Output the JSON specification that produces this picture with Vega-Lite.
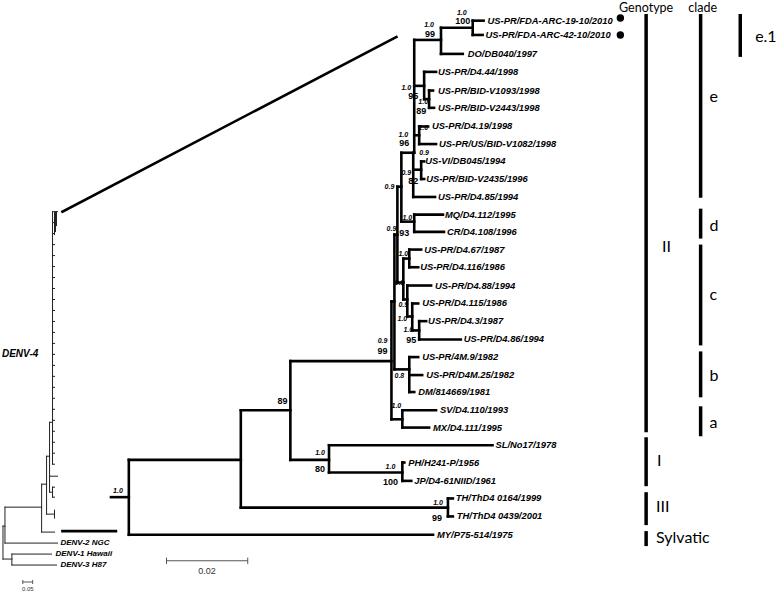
{
"$schema":"https://vega.github.io/schema/vega-lite/v6.json",
"width":777,"height":592,"padding":0,
"autosize":{"type":"fit","contains":"padding"},
"background":"white",
"config":{"view":{"stroke":null}},
"datasets":{
"branches":[
{"x":477,"y":20.7,"x2":488,"y2":20.7},{"x":477,"y":35,"x2":487,"y2":35},{"x":477,"y":20.7,"x2":477,"y2":35},
{"x":445,"y":27.8,"x2":477,"y2":27.8},{"x":445,"y":27.8,"x2":445,"y2":54},{"x":445,"y":54,"x2":467,"y2":54},
{"x":418,"y":40,"x2":445,"y2":40},{"x":418,"y":40,"x2":418,"y2":153},
{"x":418,"y":86,"x2":428,"y2":86},{"x":428,"y":72,"x2":428,"y2":99.3},{"x":428,"y":72,"x2":440,"y2":72},
{"x":428,"y":99.3,"x2":433,"y2":99.3},{"x":433,"y":90.7,"x2":433,"y2":108},{"x":433,"y":90.7,"x2":437,"y2":90.7},{"x":433,"y":108,"x2":438,"y2":108},
{"x":418,"y":135.5,"x2":423,"y2":135.5},{"x":423,"y":126.7,"x2":423,"y2":144.3},{"x":423,"y":126.7,"x2":432,"y2":126.7},{"x":423,"y":144.3,"x2":440,"y2":144.3},
{"x":417,"y":153,"x2":417,"y2":197.3},{"x":417,"y":170,"x2":425,"y2":170},{"x":425,"y":161.7,"x2":425,"y2":179.3},
{"x":425,"y":161.7,"x2":428,"y2":161.7},{"x":425,"y":179.3,"x2":428,"y2":179.3},{"x":417,"y":197.3,"x2":439,"y2":197.3},
{"x":405,"y":153,"x2":418,"y2":153},{"x":405,"y":153,"x2":405,"y2":222},{"x":405,"y":222,"x2":418,"y2":222},
{"x":418,"y":215,"x2":418,"y2":232.3},{"x":418,"y":215,"x2":447,"y2":215},{"x":418,"y":232.3,"x2":448,"y2":232.3},
{"x":401,"y":187,"x2":405,"y2":187},{"x":401,"y":187,"x2":401,"y2":283},{"x":401,"y":283,"x2":407,"y2":283},
{"x":407,"y":259,"x2":407,"y2":300},{"x":407,"y":259,"x2":413,"y2":259},{"x":413,"y":250,"x2":413,"y2":267.7},
{"x":413,"y":250,"x2":425,"y2":250},{"x":413,"y":267.7,"x2":422,"y2":267.7},
{"x":407,"y":300,"x2":411,"y2":300},{"x":411,"y":286,"x2":411,"y2":317},{"x":411,"y":286,"x2":435,"y2":286},
{"x":411,"y":317,"x2":416,"y2":317},{"x":416,"y":304,"x2":416,"y2":331},{"x":416,"y":304,"x2":422,"y2":304},
{"x":416,"y":331,"x2":423,"y2":331},{"x":423,"y":321.7,"x2":423,"y2":340},{"x":423,"y":321.7,"x2":430,"y2":321.7},{"x":423,"y":340,"x2":465,"y2":340},
{"x":398,"y":235,"x2":401,"y2":235},{"x":398,"y":235,"x2":398,"y2":370},{"x":398,"y":370,"x2":413,"y2":370},
{"x":413,"y":357.7,"x2":413,"y2":392.7},{"x":413,"y":357.7,"x2":422,"y2":357.7},{"x":413,"y":375.7,"x2":426,"y2":375.7},{"x":413,"y":392.7,"x2":418,"y2":392.7},
{"x":395,"y":302,"x2":398,"y2":302},{"x":395,"y":302,"x2":395,"y2":420},{"x":395,"y":420,"x2":406,"y2":420},
{"x":406,"y":411,"x2":406,"y2":428.3},{"x":406,"y":411,"x2":440,"y2":411},{"x":406,"y":428.3,"x2":433,"y2":428.3},
{"x":293,"y":361.7,"x2":395,"y2":361.7},{"x":293,"y":361.7,"x2":293,"y2":460.7},{"x":293,"y":460.7,"x2":332,"y2":460.7},
{"x":332,"y":446,"x2":332,"y2":473.3},{"x":332,"y":446,"x2":497,"y2":446},{"x":332,"y":473.3,"x2":406,"y2":473.3},
{"x":406,"y":463.3,"x2":406,"y2":481.7},{"x":406,"y":463.3,"x2":408,"y2":463.3},{"x":406,"y":481.7,"x2":415,"y2":481.7},
{"x":243,"y":411,"x2":293,"y2":411},{"x":243,"y":411,"x2":243,"y2":508.5},{"x":243,"y":508.5,"x2":452,"y2":508.5},
{"x":452,"y":499.3,"x2":452,"y2":517.3},{"x":452,"y":499.3,"x2":457,"y2":499.3},{"x":452,"y":517.3,"x2":457,"y2":517.3},
{"x":130,"y":460.7,"x2":243,"y2":460.7},{"x":130,"y":460.7,"x2":130,"y2":535.7},{"x":130,"y":535.7,"x2":437,"y2":535.7},
{"x":112,"y":498,"x2":130,"y2":498},
{"x":63,"y":212,"x2":400,"y2":37},{"x":63,"y":532,"x2":117,"y2":532}
],
"overview":[
{"x":3,"y":527,"x2":3,"y2":560},{"x":3,"y":527,"x2":5,"y2":527},{"x":5,"y":508,"x2":5,"y2":544},{"x":5,"y":544,"x2":58,"y2":544},
{"x":5,"y":508,"x2":42,"y2":508},{"x":42,"y":485,"x2":42,"y2":533},{"x":42,"y":533,"x2":55,"y2":533},{"x":42,"y":485,"x2":47,"y2":485},
{"x":47,"y":457,"x2":47,"y2":515},{"x":47,"y":515,"x2":55,"y2":515},{"x":55,"y":511,"x2":55,"y2":519},{"x":47,"y":457,"x2":50,"y2":457},
{"x":50,"y":423,"x2":50,"y2":493},{"x":50,"y":477,"x2":58,"y2":477},{"x":50,"y":493,"x2":53,"y2":493},{"x":53,"y":488,"x2":53,"y2":498},
{"x":53,"y":488,"x2":55,"y2":488},{"x":53,"y":498,"x2":55,"y2":498},{"x":50,"y":423,"x2":53,"y2":423},{"x":53,"y":212,"x2":53,"y2":465},
{"x":3,"y":560,"x2":12,"y2":560},{"x":12,"y":555,"x2":12,"y2":566},{"x":12,"y":555,"x2":52,"y2":555},{"x":12,"y":566,"x2":57,"y2":566},
{"x":55,"y":213,"x2":55,"y2":235},{"x":56,"y":212,"x2":56,"y2":232},{"x":57,"y":212,"x2":57,"y2":226},
{"x":53,"y":212,"x2":58,"y2":212},{"x":53,"y":223,"x2":55,"y2":223},{"x":53,"y":234,"x2":55,"y2":234},{"x":53,"y":245,"x2":55,"y2":245},
{"x":53,"y":256,"x2":55,"y2":256},{"x":53,"y":267,"x2":55,"y2":267},{"x":53,"y":278,"x2":55,"y2":278},{"x":53,"y":289,"x2":55,"y2":289},
{"x":53,"y":300,"x2":55,"y2":300},{"x":53,"y":311,"x2":55,"y2":311},{"x":53,"y":322,"x2":55,"y2":322},{"x":53,"y":333,"x2":55,"y2":333},
{"x":53,"y":344,"x2":55,"y2":344},{"x":53,"y":355,"x2":55,"y2":355},{"x":53,"y":366,"x2":55,"y2":366},{"x":53,"y":377,"x2":55,"y2":377},
{"x":53,"y":388,"x2":55,"y2":388},{"x":53,"y":399,"x2":55,"y2":399},{"x":53,"y":410,"x2":55,"y2":410},{"x":53,"y":421,"x2":55,"y2":421},
{"x":53,"y":432,"x2":55,"y2":432},{"x":53,"y":443,"x2":55,"y2":443},{"x":53,"y":454,"x2":55,"y2":454},{"x":53,"y":465,"x2":55,"y2":465}
],
"scalebars":[
{"x":168,"y":561.7,"x2":250,"y2":561.7},{"x":168,"y":558.5,"x2":168,"y2":565},{"x":250,"y":558.5,"x2":250,"y2":565},
{"x":23,"y":583,"x2":33,"y2":583},{"x":23,"y":581,"x2":23,"y2":585},{"x":33,"y":581,"x2":33,"y2":585}
],
"bars":[
{"x":652,"y":14,"x2":652,"y2":433},{"x":652,"y":438,"x2":652,"y2":487},{"x":652,"y":493,"x2":652,"y2":526},{"x":652,"y":532,"x2":652,"y2":547},
{"x":707,"y":14,"x2":707,"y2":198},{"x":707,"y":209,"x2":707,"y2":239},{"x":707,"y":245,"x2":707,"y2":346},{"x":707,"y":352,"x2":707,"y2":398},
{"x":707,"y":407,"x2":707,"y2":437},{"x":747,"y":14,"x2":747,"y2":57}
],
"dots":[{"x":626,"y":18},{"x":626,"y":35}],
"leaves":[
{"x":492,"y":20.7,"t":"US-PR/FDA-ARC-19-10/2010"},{"x":490,"y":35,"t":"US-PR/FDA-ARC-42-10/2010"},{"x":472,"y":54,"t":"DO/DB040/1997"},
{"x":442,"y":72,"t":"US-PR/D4.44/1998"},{"x":442,"y":90.7,"t":"US-PR/BID-V1093/1998"},{"x":442,"y":108,"t":"US-PR/BID-V2443/1998"},
{"x":436,"y":126.7,"t":"US-PR/D4.19/1998"},{"x":443,"y":144.3,"t":"US-PR/US/BID-V1082/1998"},{"x":429,"y":161.7,"t":"US-VI/DB045/1994"},
{"x":430,"y":179.3,"t":"US-PR/BID-V2435/1996"},{"x":442,"y":197.3,"t":"US-PR/D4.85/1994"},{"x":449,"y":215,"t":"MQ/D4.112/1995"},
{"x":451,"y":232.3,"t":"CR/D4.108/1996"},{"x":428,"y":250,"t":"US-PR/D4.67/1987"},{"x":424,"y":267.7,"t":"US-PR/D4.116/1986"},
{"x":439,"y":286,"t":"US-PR/D4.88/1994"},{"x":426,"y":304,"t":"US-PR/D4.115/1986"},{"x":432,"y":321.7,"t":"US-PR/D4.3/1987"},
{"x":468,"y":340,"t":"US-PR/D4.86/1994"},{"x":426,"y":357.7,"t":"US-PR/4M.9/1982"},{"x":430,"y":375.7,"t":"US-PR/D4M.25/1982"},
{"x":422,"y":392.7,"t":"DM/814669/1981"},{"x":444,"y":411,"t":"SV/D4.110/1993"},{"x":437,"y":428.3,"t":"MX/D4.111/1995"},
{"x":500,"y":446,"t":"SL/No17/1978"},{"x":412,"y":463.3,"t":"PH/H241-P/1956"},{"x":418,"y":481.7,"t":"JP/D4-61NIID/1961"},
{"x":460,"y":499.3,"t":"TH/ThD4 0164/1999"},{"x":461,"y":517.3,"t":"TH/ThD4 0439/2001"},{"x":441,"y":535.7,"t":"MY/P75-514/1975"}
],
"ovleaves":[
{"x":61,"y":544,"t":"DENV-2 NGC"},{"x":56,"y":555,"t":"DENV-1 Hawaii"},{"x":61,"y":566,"t":"DENV-3 H87"}
],
"denv4":[{"x":2,"y":355,"t":"DENV-4"}],
"posterior":[
{"x":466,"y":13,"t":"1.0"},{"x":433,"y":25,"t":"1.0"},{"x":410,"y":88,"t":"1.0"},{"x":427,"y":102,"t":"1.0"},
{"x":407,"y":135,"t":"1.0"},{"x":427,"y":128,"t":"1.0"},{"x":428,"y":153,"t":"0.9"},{"x":410,"y":173,"t":"0.9"},
{"x":393,"y":187,"t":"0.9"},{"x":411,"y":218,"t":"1.0"},{"x":395,"y":229,"t":"0.9"},{"x":407,"y":254,"t":"1.0"},
{"x":403,"y":283,"t":"0.9"},{"x":407,"y":306,"t":"0.9"},{"x":406,"y":320,"t":"1.0"},{"x":412,"y":331,"t":"1.0"},
{"x":386,"y":342,"t":"0.9"},{"x":403,"y":377,"t":"0.8"},{"x":400,"y":407,"t":"1.0"},{"x":323,"y":454,"t":"1.0"},
{"x":394,"y":468,"t":"1.0"},{"x":442,"y":504,"t":"1.0"},{"x":119,"y":492,"t":"1.0"}
],
"bootstrap":[
{"x":467,"y":21,"t":"100"},{"x":434,"y":34,"t":"99"},{"x":417,"y":96,"t":"95"},{"x":425,"y":111,"t":"89"},
{"x":408,"y":143,"t":"96"},{"x":417,"y":181,"t":"82"},{"x":408,"y":233,"t":"93"},{"x":415,"y":341,"t":"95"},
{"x":386,"y":352,"t":"99"},{"x":285,"y":402,"t":"89"},{"x":323,"y":470,"t":"80"},{"x":394,"y":483,"t":"100"},{"x":441,"y":519,"t":"99"}
],
"scalelabels":[{"x":209,"y":572,"t":"0.02"}],
"scalelabels2":[{"x":28,"y":590,"t":"0.05"}],
"biglabels":[
{"x":668,"y":247,"t":"II"},{"x":663,"y":462,"t":"I"},{"x":662,"y":508,"t":"III"},{"x":662,"y":539,"t":"Sylvatic"},
{"x":716,"y":97,"t":"e"},{"x":716,"y":226,"t":"d"},{"x":716,"y":295,"t":"c"},{"x":716,"y":377,"t":"b"},{"x":716,"y":424,"t":"a"},{"x":762,"y":37,"t":"e.1"}
],
"headers":[{"x":652,"y":8,"t":"Genotype"},{"x":709,"y":8,"t":"clade"}]
},
"encoding":{
"x":{"field":"x","type":"quantitative","scale":{"domain":[0,777],"nice":false,"zero":false},"axis":null},
"y":{"field":"y","type":"quantitative","scale":{"domain":[0,592],"reverse":true,"nice":false,"zero":false},"axis":null}
},
"layer":[
{"data":{"name":"branches"},"mark":{"type":"rule","strokeWidth":2.6,"strokeCap":"square","color":"black"},
 "encoding":{"x2":{"field":"x2"},"y2":{"field":"y2"}}},
{"data":{"name":"overview"},"mark":{"type":"rule","strokeWidth":1,"strokeCap":"square","color":"#222"},
 "encoding":{"x2":{"field":"x2"},"y2":{"field":"y2"}}},
{"data":{"name":"scalebars"},"mark":{"type":"rule","strokeWidth":1,"color":"#555"},
 "encoding":{"x2":{"field":"x2"},"y2":{"field":"y2"}}},
{"data":{"name":"bars"},"mark":{"type":"rule","strokeWidth":3.5,"color":"black"},
 "encoding":{"x2":{"field":"x2"},"y2":{"field":"y2"}}},
{"data":{"name":"dots"},"mark":{"type":"point","filled":true,"size":55,"color":"black","opacity":1,"shape":"circle"}},
{"data":{"name":"leaves"},"mark":{"type":"text","align":"left","baseline":"middle","font":"Liberation Sans","fontSize":9.4,"fontWeight":"bold","fontStyle":"italic","color":"black"},
 "encoding":{"text":{"field":"t"}}},
{"data":{"name":"ovleaves"},"mark":{"type":"text","align":"left","baseline":"middle","font":"Liberation Sans","fontSize":8,"fontWeight":"bold","fontStyle":"italic","color":"black"},
 "encoding":{"text":{"field":"t"}}},
{"data":{"name":"denv4"},"mark":{"type":"text","align":"left","baseline":"middle","font":"Liberation Sans","fontSize":10,"fontWeight":"bold","fontStyle":"italic","color":"black"},
 "encoding":{"text":{"field":"t"}}},
{"data":{"name":"posterior"},"mark":{"type":"text","align":"center","baseline":"middle","font":"Liberation Sans","fontSize":7,"fontWeight":"bold","fontStyle":"italic","color":"black"},
 "encoding":{"text":{"field":"t"}}},
{"data":{"name":"bootstrap"},"mark":{"type":"text","align":"center","baseline":"middle","font":"Liberation Sans","fontSize":9,"fontWeight":"bold","color":"black"},
 "encoding":{"text":{"field":"t"}}},
{"data":{"name":"scalelabels"},"mark":{"type":"text","align":"center","baseline":"middle","font":"Liberation Sans","fontSize":9,"color":"#333"},
 "encoding":{"text":{"field":"t"}}},
{"data":{"name":"scalelabels2"},"mark":{"type":"text","align":"center","baseline":"middle","font":"Liberation Sans","fontSize":6,"color":"#333"},
 "encoding":{"text":{"field":"t"}}},
{"data":{"name":"biglabels"},"mark":{"type":"text","align":"left","baseline":"middle","font":"Lato","fontSize":16,"color":"black"},
 "encoding":{"text":{"field":"t"}}},
{"data":{"name":"headers"},"mark":{"type":"text","align":"center","baseline":"middle","font":"Lato","fontSize":12.5,"color":"black"},
 "encoding":{"text":{"field":"t"}}}
]
}
